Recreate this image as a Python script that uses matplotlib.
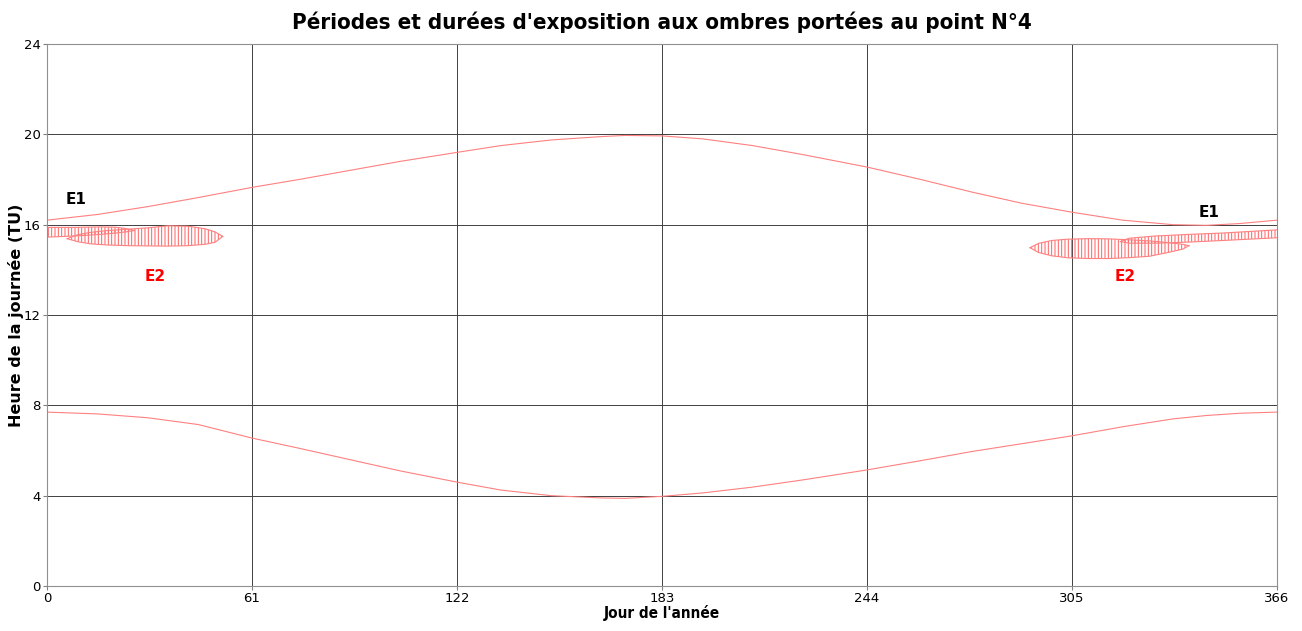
import matplotlib.pyplot as plt

plt.rcParams['hatch.linewidth'] = 0.7

# Lever / coucher du soleil (heures TU)
days = [0, 15, 30, 45, 61, 75, 90, 105, 122, 135, 150, 165, 172, 183,
        195, 210, 225, 244, 260, 275, 290, 305, 320, 335, 345, 355, 366]
sunrise = [7.70, 7.62, 7.45, 7.15, 6.55, 6.10, 5.60, 5.10, 4.60, 4.25, 4.00,
           3.90, 3.88, 3.97, 4.12, 4.38, 4.70, 5.14, 5.55, 5.95, 6.30, 6.65,
           7.05, 7.40, 7.55, 7.65, 7.70]
sunset = [16.20, 16.45, 16.80, 17.20, 17.65, 18.00, 18.40, 18.80, 19.20,
          19.50, 19.75, 19.90, 19.95, 19.93, 19.80, 19.50, 19.10, 18.55,
          18.00, 17.45, 16.95, 16.55, 16.20, 16.00, 15.97, 16.05, 16.20]

# Zones d'ombre portée (jour, heure basse, heure haute)
e1a_days = [0, 4, 8, 12, 16, 20, 23, 26]
e1a_low = [15.45, 15.47, 15.50, 15.53, 15.57, 15.62, 15.67, 15.74]
e1a_high = [15.88, 15.88, 15.88, 15.89, 15.90, 15.89, 15.84, 15.74]

e2a_days = [6, 9, 13, 18, 24, 30, 36, 42, 47, 50, 52.3]
e2a_low = [15.38, 15.25, 15.15, 15.10, 15.07, 15.06, 15.05, 15.07, 15.13, 15.22, 15.48]
e2a_high = [15.38, 15.55, 15.66, 15.74, 15.80, 15.86, 15.95, 15.93, 15.82, 15.68, 15.48]

e2b_days = [292.5, 295, 299, 304, 310, 316, 322, 328, 334, 338, 339.8]
e2b_low = [14.98, 14.77, 14.62, 14.53, 14.50, 14.50, 14.54, 14.60, 14.78, 14.92, 15.07]
e2b_high = [14.98, 15.17, 15.30, 15.36, 15.38, 15.37, 15.33, 15.28, 15.20, 15.13, 15.07]

e1b_days = [319.4, 322, 330, 340, 350, 358, 366]
e1b_low = [15.25, 15.18, 15.18, 15.23, 15.30, 15.36, 15.42]
e1b_high = [15.25, 15.40, 15.50, 15.57, 15.63, 15.70, 15.77]

labels = [("E1", 8.6, 17.1, 'black'), ("E2", 32.1, 13.7, 'red'),
          ("E1", 345.8, 16.56, 'black'), ("E2", 320.8, 13.7, 'red')]

fig = plt.figure(figsize=(13.02, 6.31), dpi=100)
ax = fig.add_axes([0.0361, 0.0713, 0.9447, 0.859])

ax.plot(days, sunrise, color='#ff8080', lw=0.8)
ax.plot(days, sunset, color='#ff8080', lw=0.8)

for d, lo, hi in [(e1a_days, e1a_low, e1a_high), (e2a_days, e2a_low, e2a_high),
                  (e2b_days, e2b_low, e2b_high), (e1b_days, e1b_low, e1b_high)]:
    ax.fill_between(d, lo, hi, facecolor='none', edgecolor='#ff6060',
                    hatch='|||||', lw=0)
    ax.plot(d, lo, color='#ff8080', lw=0.8)
    ax.plot(d, hi, color='#ff8080', lw=0.8)

for txt, x, y, c in labels:
    ax.text(x, y, txt, color=c, fontsize=11, fontweight='bold',
            ha='center', va='center')

ax.set_xlim(0, 366)
ax.set_ylim(0, 24)
ax.set_xticks([0, 61, 122, 183, 244, 305, 366])
ax.set_yticks([0, 4, 8, 12, 16, 20, 24])
ax.grid(True, color='#404040', lw=0.7)
ax.set_axisbelow(True)
ax.tick_params(labelsize=9.5, color='#808080', length=3, pad=1.5)
for s in ax.spines.values():
    s.set_color('#909090')

ax.set_title("Périodes et durées d'exposition aux ombres portées au point N°4",
             fontsize=16, fontweight='bold', fontstretch='condensed', pad=11)
ax.set_xlabel("Jour de l'année", fontsize=11, fontweight='bold',
              fontstretch='condensed')
ax.xaxis.set_label_coords(0.5, -0.035)
ax.set_ylabel("Heure de la journée (TU)", fontsize=11.5, fontweight='bold')
ax.yaxis.set_label_coords(-0.0185, 0.5)

fig.savefig('out.png', dpi=100)
